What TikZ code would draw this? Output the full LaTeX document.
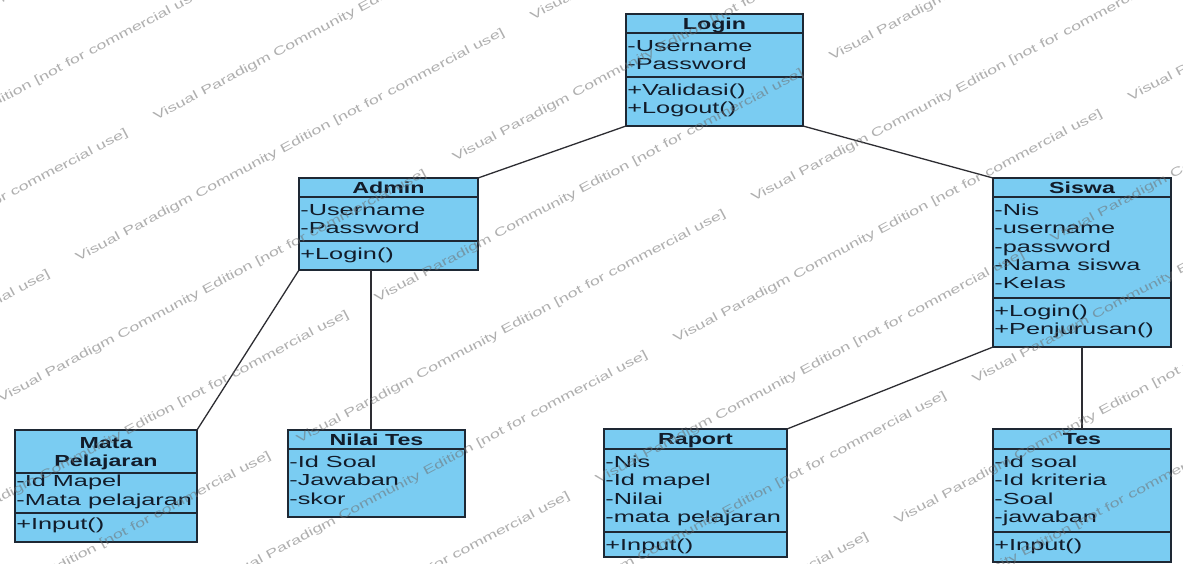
\documentclass[tikz,border=0pt]{standalone}
\usepackage{fontspec}
\newfontfamily\umlbody[FakeStretch=1.58]{Liberation Sans}
\newfontfamily\umlhead[FakeStretch=1.45]{Liberation Sans}
\newfontfamily\wmfont[FakeStretch=1.5]{Liberation Sans}
\definecolor{classfill}{RGB}{122,204,242}
\definecolor{classline}{RGB}{30,40,52}
\definecolor{classtext}{RGB}{18,28,42}
\definecolor{assocline}{RGB}{45,45,50}
\definecolor{wmgrey}{RGB}{110,110,110}
\tikzset{
  classbox/.style={draw=classline, line width=1.4pt, fill=classfill, rectangle,
    inner sep=0pt, outer sep=0pt, anchor=north west},
  divider/.style={draw=classline, line width=1.2pt},
  member/.style={font=\umlbody\fontsize{16}{18}\selectfont, text=classtext,
    inner sep=0pt, anchor=base west},
  classname/.style={font=\umlhead\bfseries\fontsize{16}{16}\selectfont, text=classtext,
    inner sep=0pt, anchor=base},
  assoc/.style={draw=assocline, line width=1.3pt},
  watermark/.style={font=\wmfont\fontsize{12}{12}\selectfont, text=wmgrey,
    text opacity=0.55, inner sep=0pt, anchor=base west, rotate=28},
}
% class frame: name, left, top, width, height
\newcommand\classframe[5]{%
  \node[classbox, minimum width=#4pt, minimum height=#5pt] (#1) at (#2,#3) {};}
% horizontal compartment line #2 pt below the top of class #1
\newcommand\compline[2]{%
  \draw[divider] ([yshift=-#2pt]#1.north west) -- ([yshift=-#2pt]#1.north east);}
% rows of a compartment: class, tag, first baseline below top, list of rows
\newcommand\classrows[4]{%
  \foreach \r [count=\i from 0] in {#4}{%
    \node[member] (#1-#2\i) at ([xshift=1.2pt, yshift={-(#3+\i*18.3)*1pt}]#1.north west) {\r};}}
\begin{document}
\begin{tikzpicture}[x=1pt, y=-1pt]
\useasboundingbox (0,0) rectangle (1183,563);
\fill[white] (0,0) rectangle (1183,563);

% ---- Login ----
\classframe{login}{626}{14}{177}{112}
\compline{login}{19}\compline{login}{63}
\node[classname] (login-name) at ([yshift=-15.5pt]login.north) {Login};
\classrows{login}{a}{37.5}{-Username,-Password}
\classrows{login}{m}{81.5}{+Validasi(),+Logout()}

% ---- Admin ----
\classframe{admin}{299}{178}{179}{92}
\compline{admin}{19}\compline{admin}{63}
\node[classname] (admin-name) at ([yshift=-15.5pt]admin.north) {Admin};
\classrows{admin}{a}{37.4}{-Username,-Password}
\classrows{admin}{m}{81.4}{+Login()}

% ---- Siswa ----
\classframe{siswa}{993}{178}{178}{169}
\compline{siswa}{19}\compline{siswa}{120}
\node[classname] (siswa-name) at ([yshift=-15.5pt]siswa.north) {Siswa};
\classrows{siswa}{a}{37.4}{-Nis,-username,-password,-Nama siswa,-Kelas}
\classrows{siswa}{m}{138.4}{+Login(),+Penjurusan()}

% ---- Mata Pelajaran ----
\classframe{mapel}{15}{430}{182}{112}
\compline{mapel}{43}\compline{mapel}{83}
\node[classname] (mapel-name1) at ([yshift=-18.5pt]mapel.north) {Mata};
\node[classname] (mapel-name2) at ([yshift=-36pt]mapel.north) {Pelajaran};
\classrows{mapel}{a}{56.7}{-Id Mapel,-Mata pelajaran}
\classrows{mapel}{m}{99.5}{+Input()}

% ---- Nilai Tes ----
\classframe{nilai}{288}{430}{177}{87}
\compline{nilai}{19}
\node[classname] (nilai-name) at ([yshift=-15.5pt]nilai.north) {Nilai Tes};
\classrows{nilai}{a}{37.4}{-Id Soal,-Jawaban,-skor}

% ---- Raport ----
\classframe{raport}{604}{429}{183}{128}
\compline{raport}{20}\compline{raport}{103}
\node[classname] (raport-name) at ([yshift=-15.5pt]raport.north) {Raport};
\classrows{raport}{a}{38.4}{-Nis,-Id mapel,-Nilai,-mata pelajaran}
\classrows{raport}{m}{121.4}{+Input()}

% ---- Tes ----
\classframe{tes}{993}{429}{178}{133}
\compline{tes}{20}\compline{tes}{103}
\node[classname] (tes-name) at ([yshift=-15.5pt]tes.north) {Tes};
\classrows{tes}{a}{38.4}{-Id soal,-Id kriteria,-Soal,-jawaban}
\classrows{tes}{m}{121.4}{+Input()}

% ---- associations ----
\draw[assoc] (login.south west) -- (admin.north east);
\draw[assoc] (login.south east) -- (siswa.north west);
\draw[assoc] (admin.south west) -- (mapel.north east);
\coordinate (admin-foot) at ([xshift=72pt]admin.south west);
\draw[assoc] (admin-foot) -- (admin-foot |- nilai.north);
\draw[assoc] (siswa.south west) -- (raport.north east);
\draw[assoc] (siswa.south) -- (tes.north);

% ---- edition watermark: rows along a 28 degree rise, 88pt apart,
%      strings repeating every 515pt along each row ----
\begin{scope}
\clip (0,0) rectangle (1183,563);
\foreach \j in {-3,...,10}{
  \pgfmathsetmacro\rown{180+88*\j}
  \pgfmathsetmacro\rowt{Mod(81-135*\j,515)}
  \foreach \k in {-2,...,2}{
    \pgfmathsetmacro\tt{\rowt+515*\k}
    \node[watermark] (wm-\j-\k) at
      ({\tt*0.883+\rown*0.469},{-\tt*0.469+\rown*0.883})
      {Visual Paradigm Community Edition [not for commercial use]};
  }}
\end{scope}
\end{tikzpicture}
\end{document}
